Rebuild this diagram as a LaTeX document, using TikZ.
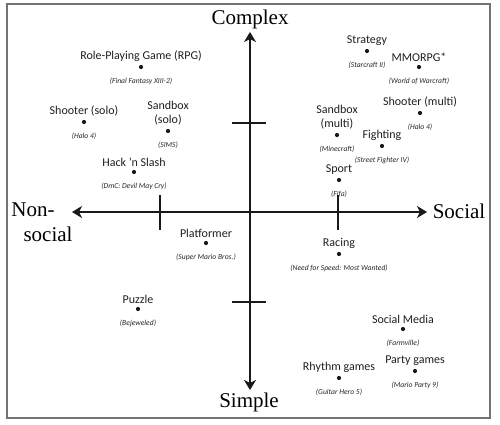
\documentclass[tikz,border=0pt]{standalone}
\usepackage{fontspec}
\setmainfont{Liberation Serif}
\setsansfont{Carlito}
\usetikzlibrary{arrows.meta, positioning}

\begin{document}
\begin{tikzpicture}[
    x=1pt, y=-1pt,
    >={Stealth[length=10pt, width=12pt, inset=3pt]},
    frame/.style={draw=black!55, line width=1.6pt},
    axis/.style={line width=2.8pt, black!90},
    axlbl/.style={font=\fontsize{21}{22}\selectfont, inner sep=0pt},
    dot/.style={circle, fill=black!90, inner sep=0pt, minimum size=4.2pt},
    genre/.style={font=\sffamily\fontsize{12}{14}\selectfont, text=black!88,
                  align=center, inner sep=0pt},
    title/.style={font=\sffamily\itshape\fontsize{7.6}{8}\selectfont,
                  text=black!85, inner sep=0pt}
  ]
  \useasboundingbox (0,0) rectangle (500,424);
  \draw[frame] (7,4) rectangle (490,418);

  % axes
  \coordinate (o) at (250,212);
  \coordinate (top) at (250,32);
  \coordinate (bot) at (250,390);
  \coordinate (lft) at (72,212);
  \coordinate (rgt) at (427,212);
  \draw[axis, <->] (lft) -- (rgt);
  \draw[axis, <->] (bot) -- (top);
  \node[axlbl] (complex) at (250,19) {Complex};
  \node[axlbl] (simple) at (249,402) {Simple};
  \node[axlbl] (social) at (459,211) {Social};
  \node[axlbl] (nonsoc1) at (33,210) {Non-};
  \node[axlbl] (nonsoc2) at (48,234) {social};

  % ticks
  \foreach \t/\y in {tc/123, ts/302} {
    \coordinate (\t) at (250,\y);
    \draw[axis] ([xshift=-18pt]\t) -- ([xshift=16pt]\t);
  }
  \foreach \t/\x in {tn/160, tr/338} {
    \coordinate (\t) at (\x,212);
    \draw[axis] ([yshift=17pt]\t) -- ([yshift=-18pt]\t);
  }

  % genres
  \foreach \n/\x/\y/\lbl/\ex in {
      rpg/141/67/{Role-Playing Game (RPG)}/{(Final Fantasy XIII-2)},
      shootsolo/84/122/{Shooter (solo)}/{(Halo 4)},
      sandsolo/168/131/{Sandbox\\(solo)}/{(SIMS)},
      hack/134/172/{Hack ’n Slash}/{(DmC: Devil May Cry)},
      strat/367/51/{Strategy}/{(Starcraft II)},
      mmo/419/67/{MMORPG*}/{(World of Warcraft)},
      shootmulti/420/113/{Shooter (multi)}/{(Halo 4)},
      sandmulti/337/135/{Sandbox\\(multi)}/{(Minecraft)},
      fight/382/146/{Fighting}/{(Street Fighter IV)},
      sport/339/180/{Sport}/{(Fifa)},
      platf/206/243/{Platformer}/{(Super Mario Bros.)},
      puzzle/138/309/{Puzzle}/{(Bejeweled)},
      racing/339/254/{Racing}/{(Need for Speed: Most Wanted)},
      socmed/403/329/{Social Media}/{(Farmville)},
      party/415/371/{Party games}/{(Mario Party 9)},
      rhythm/339/378/{Rhythm games}/{(Guitar Hero 5)}} {
    \node[dot] (\n) at (\x,\y) {};
    \node[genre, above=3pt of \n] (\n-l) {\lbl};
    \node[title, below=8pt of \n] (\n-e) {\ex};
  }
\end{tikzpicture}
\end{document}
